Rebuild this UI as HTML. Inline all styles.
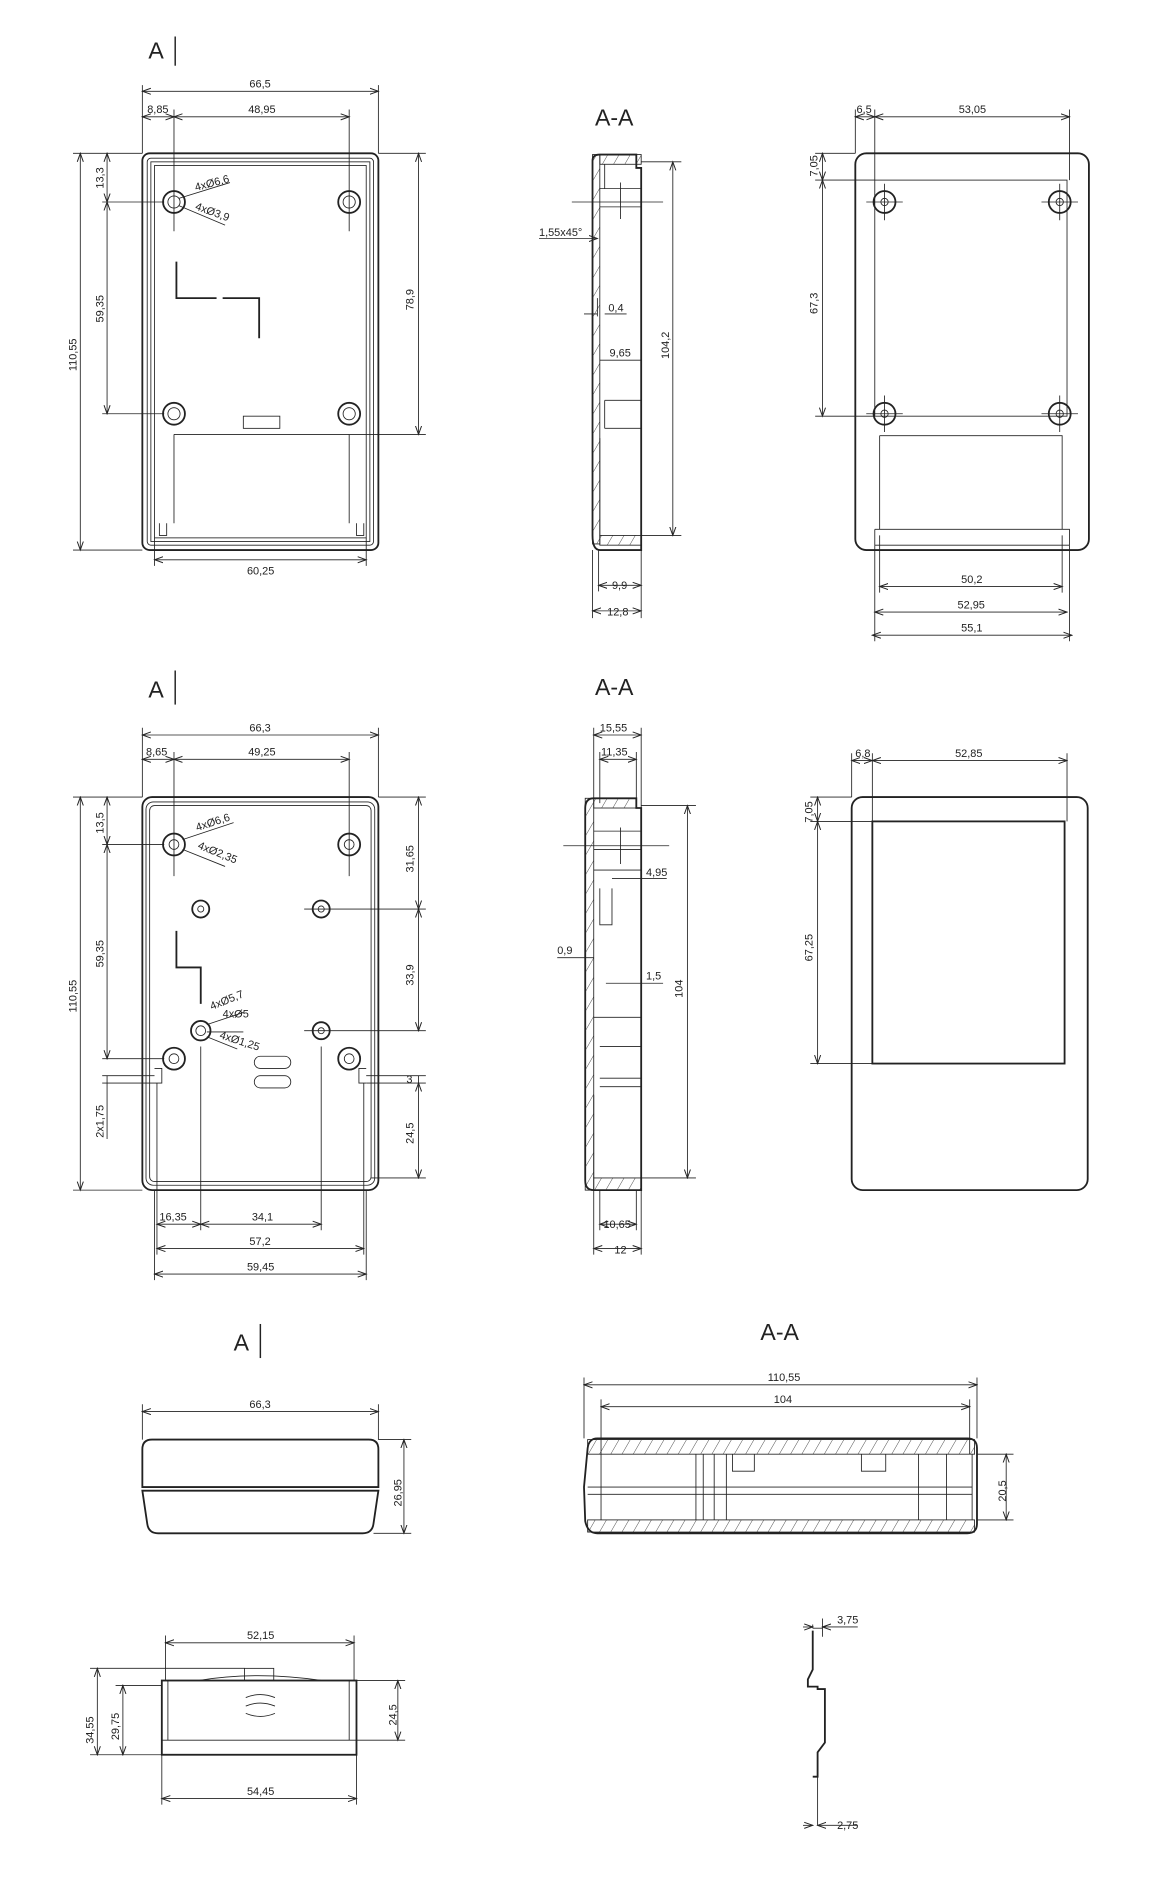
<!DOCTYPE html>
<html><head><meta charset="utf-8"><style>
html,body{margin:0;padding:0;background:#fff}
svg{display:block}
text{font-family:"Liberation Sans",sans-serif;fill:#222}
.t{font-size:9px}
.b{font-size:19px}
.g{stroke:#222;fill:none}
.th{stroke-width:1.5}
.tn{stroke-width:0.7}
</style></head><body>
<svg width="1168" height="1902" viewBox="0 0 960 1563" preserveAspectRatio="none" xmlns="http://www.w3.org/2000/svg">
<defs>
<marker id="a" markerWidth="8" markerHeight="6" refX="7" refY="3" orient="auto-start-reverse" markerUnits="userSpaceOnUse"><path d="M0,0.5 L7,3 L0,5.5" fill="none" stroke="#222" stroke-width="0.8"/></marker>
<pattern id="h" width="8" height="8" patternUnits="userSpaceOnUse" patternTransform="rotate(30)"><line x1="0" y1="0" x2="0" y2="8" stroke="#333" stroke-width="0.7"/></pattern>
</defs>
<g class="g tn" stroke="#222">
<!-- ===== VIEW 1 ===== -->
<text x="122" y="48" class="b" stroke="none">A</text><line x1="144" y1="30" x2="144" y2="54" stroke-width="1.2"/>
<rect x="117" y="126" width="194" height="326" rx="6" class="th"/>
<rect x="121" y="130" width="186" height="318" rx="3"/>
<rect x="124" y="133" width="180" height="312"/>
<rect x="127" y="136" width="174" height="306"/>
<g class="th"><circle cx="143" cy="166" r="9"/><circle cx="287" cy="166" r="9"/><circle cx="143" cy="340" r="9"/><circle cx="287" cy="340" r="9"/></g>
<circle cx="143" cy="166" r="5"/><circle cx="287" cy="166" r="5"/><circle cx="143" cy="340" r="5"/><circle cx="287" cy="340" r="5"/>
<path d="M145,215V245H178M183,245H213V278" class="th"/>
<rect x="200" y="342" width="30" height="10"/>
<path d="M143,357H287M143,357V430M287,357V430M131,430V440H137V430M293,430V440H299V430"/>
<path d="M117,75H311" marker-start="url(#a)" marker-end="url(#a)"/><text x="205" y="72" class="t" stroke="none">66,5</text>
<path d="M117,96H143" marker-start="url(#a)" marker-end="url(#a)"/><text x="121" y="93" class="t" stroke="none">8,85</text>
<path d="M143,96H287" marker-start="url(#a)" marker-end="url(#a)"/><text x="204" y="93" class="t" stroke="none">48,95</text>
<path d="M117,70V126M311,70V126M143,90V190M287,90V190"/>
<path d="M66,126V452" marker-start="url(#a)" marker-end="url(#a)"/><text transform="translate(63,305) rotate(-90)" class="t" stroke="none">110,55</text>
<path d="M88,126V166" marker-start="url(#a)" marker-end="url(#a)"/><text transform="translate(85,155) rotate(-90)" class="t" stroke="none">13,3</text>
<path d="M88,166V340" marker-start="url(#a)" marker-end="url(#a)"/><text transform="translate(85,265) rotate(-90)" class="t" stroke="none">59,35</text>
<path d="M60,126H117M60,452H117M84,166H135M84,340H135"/>
<path d="M344,126V357" marker-start="url(#a)" marker-end="url(#a)"/><text transform="translate(340,255) rotate(-90)" class="t" stroke="none">78,9</text>
<path d="M311,126H350M287,357H350"/>
<path d="M127,460H301" marker-start="url(#a)" marker-end="url(#a)"/><text x="203" y="472" class="t" stroke="none">60,25</text>
<path d="M127,442V465M301,442V465"/>
<path d="M147,163L189,150M147,169L185,185"/>
<text x="161" y="157" class="t" stroke="none" transform="rotate(-15 161 157)">4xØ6,6</text>
<text x="160" y="172" class="t" stroke="none" transform="rotate(20 160 172)">4xØ3,9</text>

<!-- ===== VIEW 2 section ===== -->
<text x="489" y="103" class="b" stroke="none">A-A</text>
<path d="M493,127H523V138H527V452H493Q487,452 487,440V132Q487,127 493,127Z" class="th"/>
<rect x="487" y="127" width="6" height="320" fill="url(#h)"/>
<rect x="493" y="127" width="34" height="8" fill="url(#h)"/>
<rect x="493" y="440" width="34" height="8" fill="url(#h)"/>
<path d="M493,155H527M493,170H527M497,135V155M497,329V352M497,329H527M497,352H527M491,245V260M493,360V440"/>
<path d="M470,166H545M510,150V180"/>
<path d="M553,133V440" marker-start="url(#a)" marker-end="url(#a)"/><text transform="translate(550,295) rotate(-90)" class="t" stroke="none">104,2</text>
<path d="M527,133H560M527,440H560"/>
<text x="443" y="194" class="t" stroke="none">1,55x45°</text><path d="M443,196H480L491,196" marker-end="url(#a)"/>
<text x="500" y="256" class="t" stroke="none">0,4</text><path d="M480,258H491M497,258H515"/>
<text x="501" y="293" class="t" stroke="none">9,65</text><path d="M493,296H527"/>
<path d="M492,481H527" marker-start="url(#a)" marker-end="url(#a)"/><text x="503" y="484" class="t" stroke="none">9,9</text>
<path d="M487,502H527" marker-start="url(#a)" marker-end="url(#a)"/><text x="499" y="506" class="t" stroke="none">12,8</text>
<path d="M487,452V508M527,452V508M492,452V486"/>

<!-- ===== VIEW 3 ===== -->
<rect x="703" y="126" width="192" height="326" rx="9" class="th"/>
<rect x="719" y="148" width="158" height="194"/>
<g class="th"><circle cx="727" cy="166" r="9"/><circle cx="871" cy="166" r="9"/><circle cx="727" cy="340" r="9"/><circle cx="871" cy="340" r="9"/></g>
<circle cx="727" cy="166" r="3"/><circle cx="871" cy="166" r="3"/><circle cx="727" cy="340" r="3"/><circle cx="871" cy="340" r="3"/>
<path d="M712,166H742M727,151V181M856,166H886M871,151V181M712,340H742M727,325V355M856,340H886M871,325V355"/>
<path d="M723,358H873V435M723,358V435M719,435H879V448M719,435V448M719,448H879"/>
<path d="M703,96H719" marker-start="url(#a)" marker-end="url(#a)"/><text x="704" y="93" class="t" stroke="none">6,5</text>
<path d="M719,96H879" marker-start="url(#a)" marker-end="url(#a)"/><text x="788" y="93" class="t" stroke="none">53,05</text>
<path d="M703,90V126M719,90V148M879,90V148"/>
<path d="M676,126V148" marker-start="url(#a)" marker-end="url(#a)"/><text transform="translate(672,145) rotate(-90)" class="t" stroke="none">7,05</text>
<path d="M676,148V342" marker-start="url(#a)" marker-end="url(#a)"/><text transform="translate(672,258) rotate(-90)" class="t" stroke="none">67,3</text>
<path d="M670,126H703M670,148H719M670,342H719"/>
<path d="M723,482H873" marker-start="url(#a)" marker-end="url(#a)"/><text x="790" y="479" class="t" stroke="none">50,2</text>
<path d="M719,503H877" marker-start="url(#a)" marker-end="url(#a)"/><text x="787" y="500" class="t" stroke="none">52,95</text>
<path d="M717,522H881" marker-start="url(#a)" marker-end="url(#a)"/><text x="790" y="519" class="t" stroke="none">55,1</text>
<path d="M719,448V527M879,448V527M723,440V487M873,440V487"/>

<!-- ===== ROW 2 VIEW 1 ===== -->
<text x="122" y="573" class="b" stroke="none">A</text><line x1="144" y1="551" x2="144" y2="579" stroke-width="1.2"/>
<rect x="117" y="655" width="194" height="323" rx="8" class="th"/>
<rect x="120" y="659" width="188" height="315" rx="6"/>
<rect x="123" y="662" width="182" height="309" rx="4"/>
<g class="th"><circle cx="143" cy="694" r="9"/><circle cx="287" cy="694" r="9"/><circle cx="143" cy="870" r="9"/><circle cx="287" cy="870" r="9"/>
<circle cx="165" cy="747" r="7"/><circle cx="264" cy="747" r="7"/><circle cx="165" cy="847" r="8"/><circle cx="264" cy="847" r="7"/></g>
<circle cx="143" cy="694" r="4"/><circle cx="287" cy="694" r="4"/><circle cx="143" cy="870" r="4"/><circle cx="287" cy="870" r="4"/>
<circle cx="165" cy="747" r="2.5"/><circle cx="264" cy="747" r="2.5"/><circle cx="165" cy="847" r="4"/><circle cx="264" cy="847" r="2.5"/>
<path d="M145,765V795H165V825" class="th"/>
<rect x="209" y="868" width="30" height="10" rx="5"/><rect x="209" y="884" width="30" height="10" rx="5"/>
<path d="M127,878H133V890H127M301,878H295V890H301"/>
<path d="M117,604H311" marker-start="url(#a)" marker-end="url(#a)"/><text x="205" y="601" class="t" stroke="none">66,3</text>
<path d="M117,624H143" marker-start="url(#a)" marker-end="url(#a)"/><text x="120" y="621" class="t" stroke="none">8,65</text>
<path d="M143,624H287" marker-start="url(#a)" marker-end="url(#a)"/><text x="204" y="621" class="t" stroke="none">49,25</text>
<path d="M117,598V655M311,598V655M143,618V720M287,618V720"/>
<path d="M66,655V978" marker-start="url(#a)" marker-end="url(#a)"/><text transform="translate(63,832) rotate(-90)" class="t" stroke="none">110,55</text>
<path d="M88,655V694" marker-start="url(#a)" marker-end="url(#a)"/><text transform="translate(85,685) rotate(-90)" class="t" stroke="none">13,5</text>
<path d="M88,694V870" marker-start="url(#a)" marker-end="url(#a)"/><text transform="translate(85,795) rotate(-90)" class="t" stroke="none">59,35</text>
<path d="M88,884V936"/><text transform="translate(85,935) rotate(-90)" class="t" stroke="none">2x1,75</text>
<path d="M60,655H117M60,978H117M84,694H135M84,870H135M84,884H127M84,890H127"/>
<path d="M344,655V747" marker-start="url(#a)" marker-end="url(#a)"/><text transform="translate(340,717) rotate(-90)" class="t" stroke="none">31,65</text>
<path d="M344,747V847" marker-start="url(#a)" marker-end="url(#a)"/><text transform="translate(340,810) rotate(-90)" class="t" stroke="none">33,9</text>
<path d="M344,884V890"/><text x="334" y="890" class="t" stroke="none">3</text>
<path d="M344,890V968" marker-start="url(#a)" marker-end="url(#a)"/><text transform="translate(340,940) rotate(-90)" class="t" stroke="none">24,5</text>
<path d="M311,655H350M250,747H350M250,847H350M301,884H350M301,890H350M305,968H350"/>
<path d="M129,1006H165" marker-start="url(#a)" marker-end="url(#a)"/><text x="131" y="1003" class="t" stroke="none">16,35</text>
<path d="M165,1006H264" marker-start="url(#a)" marker-end="url(#a)"/><text x="207" y="1003" class="t" stroke="none">34,1</text>
<path d="M129,1026H299" marker-start="url(#a)" marker-end="url(#a)"/><text x="205" y="1023" class="t" stroke="none">57,2</text>
<path d="M127,1047H301" marker-start="url(#a)" marker-end="url(#a)"/><text x="203" y="1044" class="t" stroke="none">59,45</text>
<path d="M129,890V1031M299,890V1031M165,860V1011M264,860V1011M127,978V1052M301,978V1052"/>
<path d="M150,690L192,676M150,698L185,712M170,842L200,832M170,848L200,848M170,852L195,862"/>
<text x="162" y="683" class="t" stroke="none" transform="rotate(-18 162 683)">4xØ6,6</text>
<text x="162" y="697" class="t" stroke="none" transform="rotate(22 162 697)">4xØ2,35</text>
<text x="174" y="830" class="t" stroke="none" transform="rotate(-22 174 830)">4xØ5,7</text>
<text x="183" y="836" class="t" stroke="none">4xØ5</text>
<text x="180" y="853" class="t" stroke="none" transform="rotate(18 180 853)">4xØ1,25</text>

<!-- ROW 2 section -->
<text x="489" y="571" class="b" stroke="none">A-A</text>
<path d="M488,656H523V664H527V978H488Q481,978 481,970V664Q481,656 488,656Z" class="th"/>
<rect x="481" y="656" width="7" height="322" fill="url(#h)"/>
<rect x="488" y="656" width="35" height="8" fill="url(#h)"/>
<rect x="488" y="968" width="39" height="10" fill="url(#h)"/>
<path d="M488,683H527M488,698H527M488,715H527M493,730V760H503V730M488,836H527M493,860H527M493,886H527M493,893H527M488,900V968"/>
<path d="M463,695H550M510,680V710"/>
<path d="M488,604H527" marker-start="url(#a)" marker-end="url(#a)"/><text x="493" y="601" class="t" stroke="none">15,55</text>
<path d="M493,624H523" marker-start="url(#a)" marker-end="url(#a)"/><text x="494" y="621" class="t" stroke="none">11,35</text>
<path d="M488,598V656M527,598V664M493,618V660M523,618V656"/>
<text x="531" y="720" class="t" stroke="none">4,95</text><path d="M503,722H548"/>
<text x="458" y="784" class="t" stroke="none">0,9</text><path d="M458,787H488"/>
<text x="531" y="805" class="t" stroke="none">1,5</text><path d="M498,808H545"/>
<path d="M565,662V968" marker-start="url(#a)" marker-end="url(#a)"/><text transform="translate(561,820) rotate(-90)" class="t" stroke="none">104</text>
<path d="M527,662H572M527,968H572"/>
<path d="M493,1006H523" marker-start="url(#a)" marker-end="url(#a)"/><text x="496" y="1009" class="t" stroke="none">10,65</text>
<path d="M488,1026H527" marker-start="url(#a)" marker-end="url(#a)"/><text x="505" y="1030" class="t" stroke="none">12</text>
<path d="M488,978V1031M527,978V1031M493,978V1011M523,978V1011"/>

<!-- ROW 2 VIEW 3 -->
<rect x="700" y="655" width="194" height="323" rx="9" class="th"/>
<rect x="717" y="675" width="158" height="199" class="th"/>
<path d="M700,625H717" marker-start="url(#a)" marker-end="url(#a)"/><text x="703" y="622" class="t" stroke="none">6,8</text>
<path d="M717,625H877" marker-start="url(#a)" marker-end="url(#a)"/><text x="785" y="622" class="t" stroke="none">52,85</text>
<path d="M700,619V655M717,619V675M877,619V675"/>
<path d="M672,655V675" marker-start="url(#a)" marker-end="url(#a)"/><text transform="translate(668,676) rotate(-90)" class="t" stroke="none">7,05</text>
<path d="M672,675V874" marker-start="url(#a)" marker-end="url(#a)"/><text transform="translate(668,790) rotate(-90)" class="t" stroke="none">67,25</text>
<path d="M666,655H700M666,675H717M666,874H717"/>

<!-- ROW 3 -->
<text x="192" y="1110" class="b" stroke="none">A</text><line x1="214" y1="1088" x2="214" y2="1116" stroke-width="1.2"/>
<path d="M125,1183H303Q311,1183 311,1191V1222H117V1191Q117,1183 125,1183Z" class="th"/>
<path d="M117,1225H311L307,1252Q306,1260 298,1260H130Q122,1260 121,1252Z" class="th"/>
<path d="M117,1160H311" marker-start="url(#a)" marker-end="url(#a)"/><text x="205" y="1157" class="t" stroke="none">66,3</text>
<path d="M117,1154V1183M311,1154V1183"/>
<path d="M332,1183V1260" marker-start="url(#a)" marker-end="url(#a)"/><text transform="translate(330,1238) rotate(-90)" class="t" stroke="none">26,95</text>
<path d="M311,1183H338M307,1260H338"/>

<text x="625" y="1101" class="b" stroke="none">A-A</text>
<path d="M491,1182H795Q803,1182 803,1190V1252Q803,1260 795,1260H491Q483,1260 481,1250L480,1222L483,1190Q484,1182 491,1182Z" class="th"/>
<rect x="483" y="1183" width="318" height="12" fill="url(#h)"/>
<rect x="483" y="1249" width="318" height="10" fill="url(#h)"/>
<path d="M494,1195V1249M799,1195V1249M483,1222H799M483,1228H799M572,1195V1249M578,1195V1249M587,1195V1249M597,1195V1249M755,1195V1249M778,1195V1249M602,1195V1209H620V1195M708,1195V1209H728V1195"/>
<path d="M480,1138H803" marker-start="url(#a)" marker-end="url(#a)"/><text x="631" y="1135" class="t" stroke="none">110,55</text>
<path d="M494,1156H797" marker-start="url(#a)" marker-end="url(#a)"/><text x="636" y="1153" class="t" stroke="none">104</text>
<path d="M480,1132V1182M803,1132V1182M494,1150V1195M797,1150V1195"/>
<path d="M827,1195V1249" marker-start="url(#a)" marker-end="url(#a)"/><text transform="translate(827,1234) rotate(-90)" class="t" stroke="none">20,5</text>
<path d="M803,1195H833M803,1249H833"/>

<!-- lid -->
<path d="M163,1381Q210,1373 265,1381" />
<rect x="201" y="1371" width="24" height="10"/>
<rect x="133" y="1381" width="160" height="61" class="th"/>
<path d="M138,1381V1430H287V1381M133,1430H138M287,1430H293M133,1442V1430"/>
<path d="M202,1395Q214,1390 226,1395M202,1402Q214,1397 226,1402M202,1408Q214,1413 226,1408"/>
<path d="M136,1350H291" marker-start="url(#a)" marker-end="url(#a)"/><text x="203" y="1347" class="t" stroke="none">52,15</text>
<path d="M136,1344V1381M291,1344V1381"/>
<path d="M80,1371V1442" marker-start="url(#a)" marker-end="url(#a)"/><text transform="translate(77,1433) rotate(-90)" class="t" stroke="none">34,55</text>
<path d="M101,1385V1442" marker-start="url(#a)" marker-end="url(#a)"/><text transform="translate(98,1430) rotate(-90)" class="t" stroke="none">29,75</text>
<path d="M74,1371H201M95,1385H133M74,1442H133"/>
<path d="M327,1381V1430" marker-start="url(#a)" marker-end="url(#a)"/><text transform="translate(326,1418) rotate(-90)" class="t" stroke="none">24,5</text>
<path d="M293,1381H333M293,1430H333"/>
<path d="M133,1478H293" marker-start="url(#a)" marker-end="url(#a)"/><text x="203" y="1475" class="t" stroke="none">54,45</text>
<path d="M133,1442V1483M293,1442V1483"/>

<!-- side profile -->
<path d="M668,1340V1372L664,1380V1386H672V1388H678V1432L672,1440V1460H668" class="th"/>
<path d="M668,1338H676" /><path d="M672,1460V1500"/>
<path d="M668,1338V1335M676,1330V1345"/>
<path d="M660,1337H668" marker-end="url(#a)"/><path d="M705,1337H676" marker-end="url(#a)"/><text x="688" y="1334" class="t" stroke="none">3,75</text>
<path d="M660,1500H668" marker-end="url(#a)"/><path d="M705,1500H672" marker-end="url(#a)"/><text x="688" y="1503" class="t" stroke="none">2,75</text>
</g>
</svg>
</body></html>
